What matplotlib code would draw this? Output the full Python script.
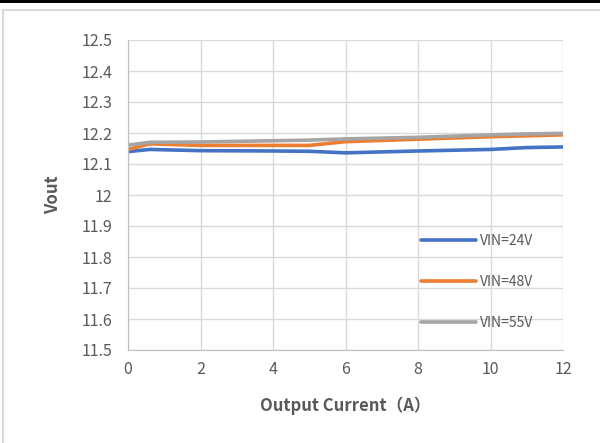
import matplotlib.pyplot as plt
from matplotlib.patches import Rectangle

plt.rcParams['font.family'] = ['Noto Sans CJK SC', 'DejaVu Sans']

current = [0, 0.6, 2, 4, 5, 6, 8, 10, 11, 12]
vin24 = [12.140, 12.147, 12.143, 12.142, 12.141, 12.136, 12.142, 12.147, 12.153, 12.155]
vin48 = [12.147, 12.165, 12.160, 12.160, 12.160, 12.172, 12.180, 12.188, 12.191, 12.194]
vin55 = [12.161, 12.170, 12.171, 12.175, 12.177, 12.181, 12.186, 12.194, 12.197, 12.199]
series = [('VIN=24V', vin24, '#4472c4'),
          ('VIN=48V', vin48, '#ed7d31'),
          ('VIN=55V', vin55, '#a5a5a5')]

fig = plt.figure(figsize=(6, 4.43), dpi=100)
# chart frame and dark strip at the top edge
fig.patches.append(Rectangle((3 / 600, -0.1), 1.2, 1 - 10 / 443 + 0.1, transform=fig.transFigure,
                             fill=False, edgecolor='#d9d9d9', linewidth=1.5))
fig.patches.append(Rectangle((0, 1 - 3 / 443), 1, 3 / 443, transform=fig.transFigure,
                             facecolor='black', edgecolor='none'))

ax = fig.add_axes([128 / 600, 1 - 350 / 443, (563 - 128) / 600, (350 - 40) / 443])
for label, vals, col in series:
    ax.plot(current, vals, color=col, linewidth=2.6, label=label, solid_capstyle='round')

ax.set_xlim(0, 12)
ax.set_ylim(11.5, 12.5)
ax.set_xticks(range(0, 13, 2))
ax.set_yticks([11.5 + 0.1 * i for i in range(11)])
ax.set_yticklabels(['11.5', '11.6', '11.7', '11.8', '11.9', '12', '12.1', '12.2', '12.3', '12.4', '12.5'])
ax.grid(True, color='#d9d9d9', linewidth=1)
ax.set_axisbelow(True)
ax.tick_params(length=0, labelsize=11.5, labelcolor='#595959')
ax.tick_params(axis='x', pad=8)
ax.tick_params(axis='y', pad=11)
for side in ['top', 'right']:
    ax.spines[side].set_visible(False)
for side in ['left', 'bottom']:
    ax.spines[side].set_color('#bfbfbf')

ax.set_xlabel('Output Current（A）', fontsize=12, fontweight='bold', color='#595959', labelpad=13)
ax.set_ylabel('Vout', fontsize=12, fontweight='bold', color='#595959', labelpad=14)

ax.legend(loc='upper left', bbox_to_anchor=(0.644, 0.415), frameon=False, fontsize=10,
          handlelength=4.0, handletextpad=0.3, labelspacing=1.95, labelcolor='#595959')

fig.savefig('out.png', dpi=100)
